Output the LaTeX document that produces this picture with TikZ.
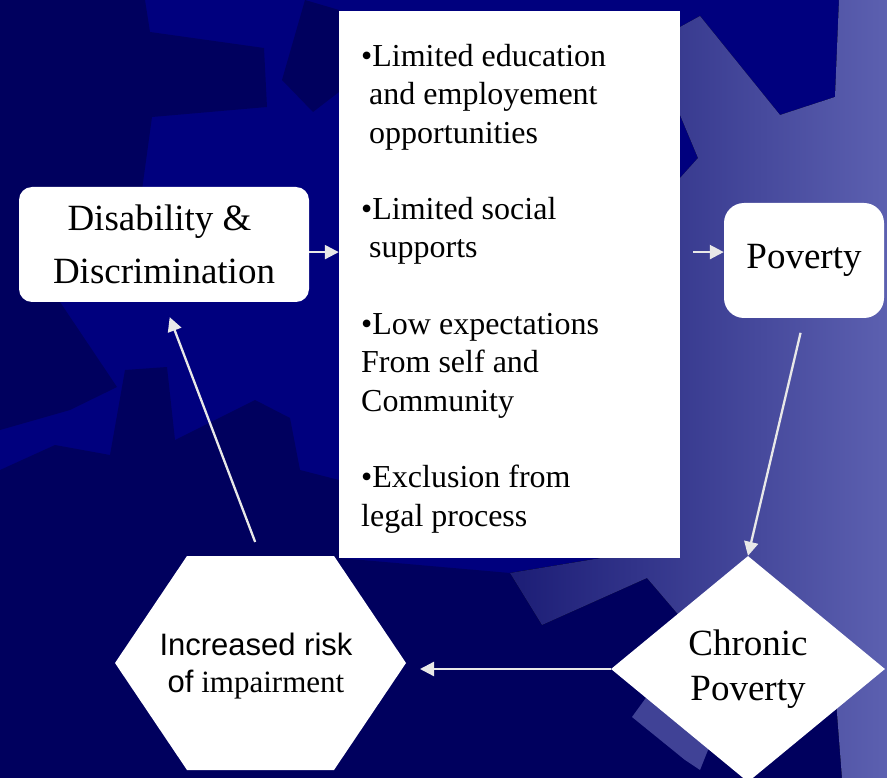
\documentclass[tikz,border=0pt]{standalone}
\usepackage{fontspec}
\setmainfont{Liberation Serif}
\newfontfamily\arialfont{Liberation Sans}
\usetikzlibrary{shapes.geometric,arrows.meta}
\definecolor{navy}{RGB}{0,0,126}
\definecolor{navydark}{RGB}{0,0,94}
\definecolor{lilacL}{RGB}{28,29,118}
\definecolor{lilacR}{RGB}{92,96,176}
\definecolor{lilacmid}{RGB}{64,66,150}
\definecolor{arrowgray}{RGB}{232,232,232}
\tikzset{
  whitebox/.style={fill=white, draw=none, inner sep=0pt, align=center},
  flow/.style={draw=arrowgray, line width=2.3pt, -{Triangle[length=14pt,width=14pt]}},
  bigtext/.style={font=\fontsize{37}{53}\selectfont}
}
\begin{document}
\begin{tikzpicture}[x=1pt,y=-1pt]
\useasboundingbox (0,0) rectangle (887,778);
% background
\fill[navy] (0,0) rectangle (887,778);
\fill[navydark] (0,0) -- (145,0) -- (150,32) -- (264,48) -- (267,107) -- (152,117) -- (142,190)
  -- (60,302) -- (117,387) -- (70,410) -- (0,430) -- cycle;
\fill[navydark] (282,80) -- (313,112) -- (339,92) -- (339,10) -- (305,0) -- cycle;
\fill[navydark] (0,470) -- (55,445) -- (110,455) -- (125,370) -- (167,367) -- (175,440) -- (255,400)
  -- (290,418) -- (300,470) -- (339,480) -- (339,558) -- (510,573) -- (542,625) -- (647,578)
  -- (700,640) -- (800,690) -- (840,700) -- (842,778) -- (0,778) -- cycle;
\fill[left color=lilacL, right color=lilacR] (680,27) -- (700,16) -- (780,115) -- (835,97) -- (839,0)
  -- (887,0) -- (887,778) -- (842,778) -- (836,700) -- (700,640) -- (647,578) -- (542,625)
  -- (510,573) -- (680,545) -- (680,178) -- (698,158) -- (680,115) -- cycle;
\fill[lilacmid] (632,717) -- (648,695) -- (720,720) -- (700,770) -- (685,760) -- cycle;

% shapes
\node[whitebox, rounded corners=13pt, minimum width=290pt, minimum height=115pt, bigtext] (disab) at (164,244.5) {Disability \&\hspace*{9pt}\\Discrimination};
\node[fill=white, minimum width=341pt, minimum height=547pt, inner sep=0pt] (list) at (509.5,284.5) {};
\node[anchor=base west, align=left, inner sep=0pt, font=\fontsize{32}{38.3}\selectfont] (items) at (361,526)
  {•Limited education\\ \ and employement\\ \ opportunities\\[38.3pt]
   •Limited social\\ \ supports\\[38.3pt]
   •Low expectations\\From self and\\Community\\[38.3pt]
   •Exclusion from\\legal process};
\node[whitebox, rounded corners=20pt, minimum width=160pt, minimum height=115pt, bigtext] (pov) at (804,260.5) {Poverty};
\node[diamond, fill=white, inner sep=0pt, minimum width=274pt, minimum height=226pt, align=center,
  font=\fontsize{37}{45}\selectfont] (chron) at (748,669) {Chronic\\Poverty};
% hexagon
\fill[white] (115,663) -- (187,556) -- (334,556) -- (406,663) -- (334,770) -- (187,770) -- cycle;
\coordinate (risktop) at (260.5,556);
\coordinate (riskright) at (406,663);
\node[align=center, inner sep=0pt, font=\fontsize{31}{37}\selectfont] (risk) at (256,666)
  {{\arialfont Increased risk}\\{\arialfont of} impairment};

% arrows
\draw[flow] (disab.-3.4) -- (disab.-3.4 -| list.west);
\draw[flow, shorten <=13pt] (list.east |- pov.174.6) -- (pov.174.6);
\draw[flow, shorten <=15pt] (pov.south) -- (chron.north);
\draw[flow, shorten >=14pt] (chron.west) -- (chron.west -| riskright);
\draw[flow, shorten <=15pt, shorten >=16pt] (risktop) -- (disab.south);
\end{tikzpicture}
\end{document}
